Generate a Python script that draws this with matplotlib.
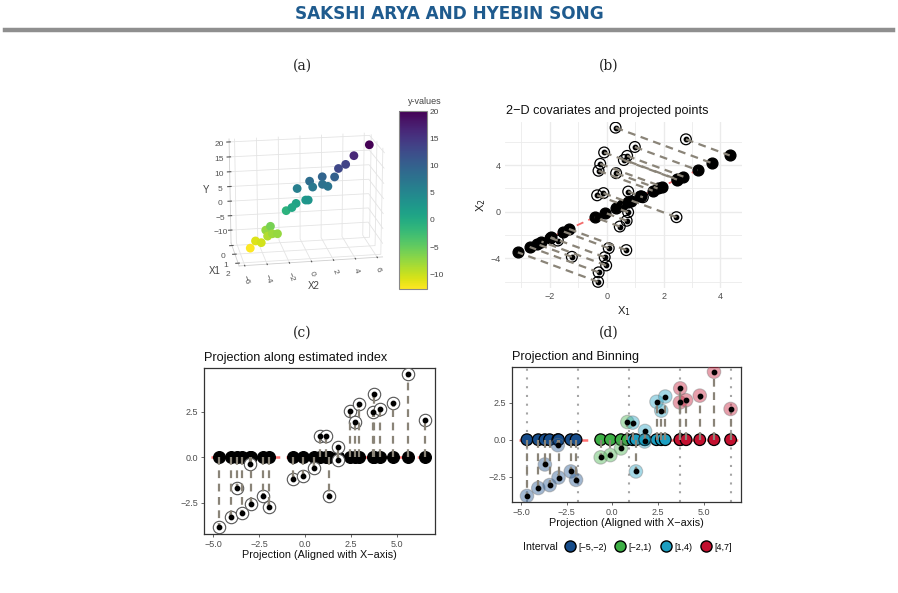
import numpy as np
import matplotlib
matplotlib.use("Agg")
import matplotlib.pyplot as plt
from matplotlib.lines import Line2D

# ---------------- data ----------------
# panel (c)/(d): projection of each point on the estimated index, and its residual
proj = [-4.68, -4.06, -3.70, -3.44, -2.99, -2.95, -2.28, -1.99, -0.64, -0.11,
        0.47, 0.82, 1.11, 1.29, 1.79, 1.77, 2.42, 2.68, 2.90, 3.72,
        3.70, 4.04, 4.79, 5.57, 6.48]
resid = [-3.79, -3.26, -1.67, -3.06, -0.37, -2.55, -2.14, -2.71, -1.19, -1.04,
         -0.59, 1.19, 1.15, -2.14, 0.59, -0.12, 2.56, 1.96, 2.91, 3.46,
         2.51, 2.66, 2.97, 4.58, 2.07]
index_angle_deg = 48.1          # direction of the estimated index in (X1, X2)

# panel (a): 3-D covariates and response
x2_3d = [5.75, 4.4, 3.7, 2.9, 2.6, 1.6, 1.45, 1.9, 0.4, 0.6, -0.7, 0.15, 0.0,
         -0.8, -1.3, -1.75, -3.2, -2.7, -3.1, -3.6, -3.5, -4.15, -4.55, -5.1]
x1_3d = [1.1, 1.0, 0.9, 1.2, 1.1, 0.8, 1.2, 1.3, 0.9, 1.1, 0.8, 1.2, 1.0,
         0.8, 1.1, 0.9, 0.9, 1.3, 1.1, 0.8, 1.0, 1.2, 0.8, 1.0]
y_3d = [20.1, 16.5, 13.5, 13.0, 10.0, 9.5, 8.0, 7.5, 8.5, 7.0, 6.0, 3.0, 2.5,
        1.0, 0.5, -1.0, -6.0, -7.5, -8.0, -7.5, -9.0, -10.5, -11.0, -12.75]

interval_labels = ["[\u22125,\u22122)", "[\u22122,1)", "[1,4)", "[4,7]"]
interval_colors = ["#164c8a", "#3daf45", "#1c9fc2", "#c3102f"]

# ---------------- derived ----------------
proj = np.array(proj); resid = np.array(resid)
th = np.deg2rad(index_angle_deg)
c, s = np.cos(th), np.sin(th)
X1 = proj * c - resid * s
X2 = proj * s + resid * c
P1 = proj * c
P2 = proj * s
breaks = np.linspace(proj.min(), proj.max(), 5)
bins = np.clip(np.digitize(proj, breaks[1:-1]), 0, 3)

GRAY = "#8a8478"
TXT = "#4d4d4d"
SANS = ["Liberation Sans", "DejaVu Sans"]
plt.rcParams["font.family"] = SANS

W, H = 898, 593
fig = plt.figure(figsize=(W / 100, H / 100), dpi=100)


def fx(x):
    return x / W


def fy(y):
    return 1 - y / H


def box(l, t, r, b):
    return [fx(l), fy(b), fx(r) - fx(l), fy(t) - fy(b)]


# ---------------- page decoration ----------------
fig.text(fx(449), fy(14), "SAKSHI ARYA AND HYEBIN SONG", ha="center", va="center",
         color="#1f5b8e", fontsize=12.2, fontweight="bold",
         family=["Liberation Sans Narrow", "DejaVu Sans"])
fig.add_artist(Line2D([fx(5), fx(893)], [fy(30), fy(30)], color="#8f8f8f", lw=3.2))
for lab, x, y in [("(a)", 302, 66), ("(b)", 609, 66), ("(c)", 302, 333), ("(d)", 609, 333)]:
    fig.text(fx(x), fy(y), lab, ha="center", va="center", fontsize=10,
             family=["DejaVu Serif"], color="#222")

# ---------------- panel (a): 3-D scatter ----------------
ax3 = fig.add_axes(box(185, 81, 420, 321), projection="3d")
ax3.patch.set_alpha(0)
ax3.set_box_aspect((1.3, 0.6, 1.0), zoom=0.8)
sc = ax3.scatter(x2_3d, x1_3d, y_3d, c=y_3d, cmap="viridis_r", s=40,
                 depthshade=False, vmin=min(y_3d), vmax=max(y_3d), edgecolors="none")
ax3.set_xlim(-6.5, 6.5)
ax3.set_ylim(2.3, -0.3)
ax3.set_zlim(-14.5, 21)
ax3.set_xticks([-6, -4, -2, 0, 2, 4, 6])
ax3.set_yticks([0, 1, 2])
ax3.set_zticks([-10, -5, 0, 5, 10, 15, 20])
ax3.view_init(elev=18, azim=-100)
for axis in (ax3.xaxis, ax3.yaxis, ax3.zaxis):
    axis.set_pane_color((1, 1, 1, 0))
    axis._axinfo["grid"]["color"] = "#e4e4e4"
    axis._axinfo["grid"]["linewidth"] = 0.6
    axis.line.set_color("#cfcfcf")
    axis.line.set_linewidth(0.6)
ax3.tick_params(labelsize=6, colors="#555", pad=-2)
ax3.tick_params(axis="x", labelrotation=-70)
ax3.set_xlabel("X2", fontsize=7, color="#444", labelpad=-4)
ax3.set_ylabel("X1", fontsize=7, color="#444", labelpad=-8)
ax3.set_zlabel("Y", fontsize=7, color="#444", labelpad=-7)

cax = fig.add_axes(box(399, 111, 427, 289))
cb = fig.colorbar(sc, cax=cax, ticks=[-10, -5, 0, 5, 10, 15, 20])
cb.outline.set_edgecolor("#888")
cb.outline.set_linewidth(0.8)
cax.tick_params(labelsize=6, colors="#444", length=0, pad=2)
fig.text(fx(425), fy(102), "y-values", ha="center", va="center", fontsize=6.5, color="#444")

# ---------------- panel (b): 2-D covariates ----------------
axb = fig.add_axes(box(505, 122, 742, 288))
axb.set_xlim(-3.58, 4.76)
axb.set_ylim(-6.54, 7.69)
for v in np.arange(-3, 5, 1):
    axb.axvline(v, color="#ebebeb", lw=1.0 if v % 2 == 0 else 0.6, zorder=0)
for v in np.arange(-6, 8, 2):
    axb.axhline(v, color="#ebebeb", lw=1.0 if v % 4 == 0 else 0.6, zorder=0)
xs = np.array([-4, 5])
axb.plot(xs * c, xs * s, color="#f26b6b", lw=1.3, ls=(0, (4, 3)), zorder=1)
axb.scatter(P1, P2, s=60, color="black", zorder=2)
axb.scatter(X1, X2, s=60, facecolors="none", edgecolors="black", linewidths=0.9, zorder=2)
axb.scatter(X1, X2, s=10, color="black", zorder=3)
for i in range(len(proj)):
    axb.plot([X1[i], P1[i]], [X2[i], P2[i]], color=GRAY, lw=1.6, ls=(0, (3.5, 2.5)),
             zorder=4, solid_capstyle="butt", dash_capstyle="butt")
for sp in axb.spines.values():
    sp.set_visible(False)
axb.set_xticks([-2, 0, 2, 4])
axb.set_yticks([-4, 0, 4])
axb.tick_params(length=0, labelsize=6.5, colors=TXT, pad=3)
axb.set_xlabel("X$_1$", fontsize=8, color="#222", labelpad=2)
axb.set_ylabel("X$_2$", fontsize=8, color="#222", labelpad=2)
axb.set_title("2\u2212D covariates and projected points", fontsize=9.1, loc="left",
              x=0.005, pad=6, color="#111")


# ---------------- panels (c) and (d) ----------------
def base(ax, title):
    ax.set_xlim(-5.5, 7.05)
    ax.set_ylim(-4.2, 4.9)
    ax.set_xticks([-5, -2.5, 0, 2.5, 5])
    ax.set_xticklabels(["\u22125.0", "\u22122.5", "0.0", "2.5", "5.0"])
    ax.set_yticks([-2.5, 0, 2.5])
    ax.set_yticklabels(["\u22122.5", "0.0", "2.5"])
    ax.tick_params(length=2.5, width=0.6, labelsize=6.5, colors=TXT, pad=1.5)
    for sp in ax.spines.values():
        sp.set_color("#333")
        sp.set_linewidth(0.9)
    ax.set_xlabel("Projection (Aligned with X\u2212axis)", fontsize=7.8, color="#111", labelpad=1)
    ax.set_title(title, fontsize=9.1, loc="left", x=0.0, pad=5, color="#111")
    ax.plot([-5.1, 7.2], [0, 0], color="red", alpha=0.55, lw=1.8, ls=(0, (5, 2.5)), zorder=1)


def arrows(ax):
    for i in range(len(proj)):
        ax.plot([proj[i], proj[i]], [0, resid[i]], color=GRAY, lw=1.6,
                ls=(0, (3.5, 2.5)), zorder=4)
        d = np.sign(resid[i])
        ax.annotate("", xy=(proj[i], resid[i]), xytext=(proj[i], resid[i] - d * 0.05),
                    arrowprops=dict(arrowstyle="-|>", color=GRAY, lw=0, shrinkA=0,
                                    shrinkB=0, mutation_scale=6), zorder=4)


axc = fig.add_axes(box(204, 368, 435, 534))
base(axc, "Projection along estimated index")
axc.scatter(proj, np.zeros_like(proj), s=70, color="black", zorder=2)
axc.scatter(proj, resid, s=80, facecolors="white", edgecolors="#555", linewidths=0.8, zorder=3)
arrows(axc)
axc.scatter(proj, resid, s=10, color="black", zorder=5)

axd = fig.add_axes(box(512, 367, 741, 502))
base(axd, "Projection and Binning")
for b in breaks:
    axd.axvline(b, color="#a5a5a5", lw=1.5, ls=(0, (1, 3.2)), zorder=0)
cols = np.array(interval_colors)[bins]
axd.scatter(proj, np.zeros_like(proj), s=70, c=cols, edgecolors="black", linewidths=0.9, zorder=2)
axd.scatter(proj, resid, s=95, c=cols, alpha=0.4, edgecolors="#777", linewidths=0.8, zorder=3)
arrows(axd)
axd.scatter(proj, resid, s=10, color="black", zorder=5)

handles = [Line2D([], [], marker="o", ls="", markersize=8, markerfacecolor=col,
                  markeredgecolor="black", markeredgewidth=1.0) for col in interval_colors]
fig.legend(handles, interval_labels, loc="center", bbox_to_anchor=(fx(648), fy(547)),
           ncol=4, frameon=False, fontsize=6.5, handletextpad=0.35, columnspacing=0.9,
           handlelength=1.2, borderpad=0)
fig.text(fx(523), fy(547), "Interval", ha="left", va="center", fontsize=7.6, color="#111")

fig.savefig("out.png", dpi=100)
